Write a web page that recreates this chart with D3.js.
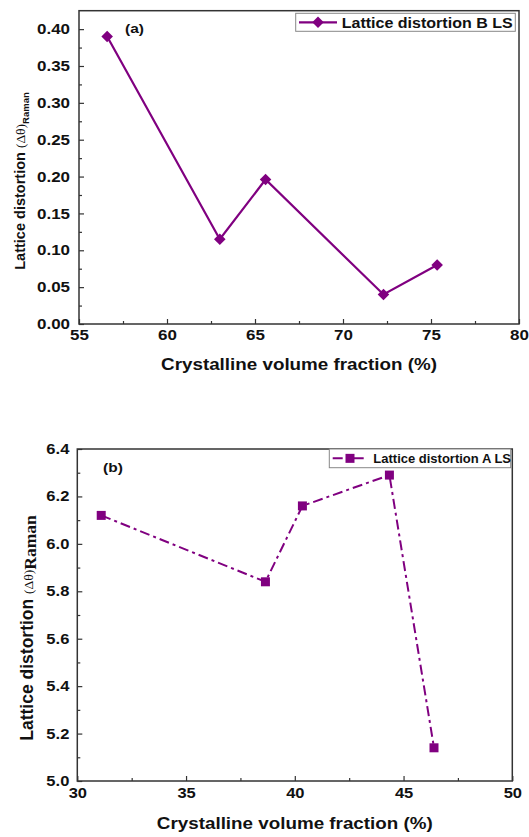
<!DOCTYPE html>
<html>
<head>
<meta charset="utf-8">
<script src="https://cdn.jsdelivr.net/npm/d3@7/dist/d3.min.js"></script>
<style>
  body { margin: 0; background: #fff; }
  svg { display: block; }
  text { font-family: "Liberation Sans", Arial, sans-serif; font-weight: bold; fill: #111; }
</style>
</head>
<body>
<div id="chart"></div>
<script>
// painel (a) - B LS
const fractionB = [56.6, 63.0, 65.6, 72.3, 75.35];
const distortionB = [0.39, 0.115, 0.196, 0.04, 0.08];
const xTicksB = [55, 60, 65, 70, 75, 80];
const yTicksB = [0, 0.05, 0.10, 0.15, 0.20, 0.25, 0.30, 0.35, 0.40];

// painel (b) - A LS
const fractionA = [31.1, 38.65, 40.35, 44.35, 46.4];
const distortionA = [6.12, 5.84, 6.16, 6.29, 5.14];
const xTicksA = [30, 35, 40, 45, 50];
const yTicksA = [5.0, 5.2, 5.4, 5.6, 5.8, 6.0, 6.2, 6.4];

const purple = "#800080";
const width = 529, height = 837;

const svg = d3.select("#chart").append("svg")
  .attr("width", width)
  .attr("height", height);

// desenha um painel completo
function drawPanel(cfg) {
  const x = d3.scaleLinear().domain(cfg.xDomain).range([cfg.left, cfg.right]);
  const y = d3.scaleLinear().domain(cfg.yDomain).range([cfg.bottom, cfg.top]);
  const g = svg.append("g");

  // ticks menores
  const xMinor = cfg.xTicks.slice(0, -1).map((d, i) => (d + cfg.xTicks[i + 1]) / 2);
  const yMinor = cfg.yTicks.slice(0, -1).map((d, i) => (d + cfg.yTicks[i + 1]) / 2);

  g.append("g")
    .attr("transform", `translate(0,${cfg.bottom})`)
    .call(d3.axisBottom(x).tickValues(xMinor).tickSize(-3).tickSizeOuter(0).tickFormat(""))
    .call(a => a.select(".domain").remove());
  g.append("g")
    .attr("transform", `translate(${cfg.left},0)`)
    .call(d3.axisLeft(y).tickValues(yMinor).tickSize(-3).tickSizeOuter(0).tickFormat(""))
    .call(a => a.select(".domain").remove());

  // ticks maiores
  const xAxis = g.append("g")
    .attr("transform", `translate(0,${cfg.bottom})`)
    .call(d3.axisBottom(x).tickValues(cfg.xTicks).tickSize(-5).tickSizeOuter(0).tickPadding(cfg.xPad).tickFormat(d3.format("d")));
  xAxis.select(".domain").remove();
  xAxis.selectAll("text")
    .style("font-size", cfg.tickFont + "px")
    .attr("transform", `scale(${cfg.sx},1)`);

  const yAxis = g.append("g")
    .attr("transform", `translate(${cfg.left},0)`)
    .call(d3.axisLeft(y).tickValues(cfg.yTicks).tickSize(-5).tickSizeOuter(0).tickFormat(d3.format(cfg.yFmt)));
  yAxis.select(".domain").remove();
  yAxis.selectAll("text")
    .style("font-size", cfg.tickFont + "px")
    .attr("x", -cfg.yPad / cfg.sx)
    .attr("transform", `scale(${cfg.sx},1)`);

  g.selectAll(".tick line").attr("stroke", "#333").attr("stroke-width", 1.2);

  // moldura
  g.append("rect")
    .attr("x", cfg.left).attr("y", cfg.top)
    .attr("width", cfg.right - cfg.left).attr("height", cfg.bottom - cfg.top)
    .attr("fill", "none").attr("stroke", "#333").attr("stroke-width", 1.5);

  // linha e marcadores
  const pts = cfg.xs.map((d, i) => [d, cfg.ys[i]]);
  const line = d3.line().x(d => x(d[0])).y(d => y(d[1]));
  g.append("path")
    .datum(pts)
    .attr("d", line)
    .attr("fill", "none")
    .attr("stroke", purple)
    .attr("stroke-width", cfg.lineWidth)
    .attr("stroke-dasharray", cfg.dash);

  g.selectAll(".mk")
    .data(pts)
    .join("path")
    .attr("transform", d => `translate(${x(d[0])},${y(d[1])})`)
    .attr("d", d3.symbol().type(cfg.symbol).size(cfg.symbolSize))
    .attr("fill", purple);

  // legenda
  const lg = g.append("g");
  lg.append("rect")
    .attr("x", cfg.legend.x0).attr("y", cfg.legend.y0)
    .attr("width", cfg.legend.x1 - cfg.legend.x0).attr("height", cfg.legend.y1 - cfg.legend.y0)
    .attr("fill", "#fff").attr("stroke", "#888").attr("stroke-width", 1);
  const ly = (cfg.legend.y0 + cfg.legend.y1) / 2;
  lg.append("line")
    .attr("x1", cfg.legend.lx0).attr("x2", cfg.legend.lx1)
    .attr("y1", ly).attr("y2", ly)
    .attr("stroke", purple).attr("stroke-width", cfg.lineWidth)
    .attr("stroke-dasharray", cfg.dash);
  lg.append("path")
    .attr("transform", `translate(${(cfg.legend.lx0 + cfg.legend.lx1) / 2},${ly})`)
    .attr("d", d3.symbol().type(cfg.symbol).size(cfg.symbolSize))
    .attr("fill", purple);
  lg.append("text")
    .attr("transform", `translate(${cfg.legend.tx},${ly + cfg.legend.font * 0.36}) scale(${cfg.legend.sx},1)`)
    .style("font-size", cfg.legend.font + "px")
    .text(cfg.legend.label);

  // letra do painel
  g.append("text")
    .attr("transform", `translate(${cfg.tag.x},${cfg.tag.y}) scale(1.15,1)`)
    .style("font-size", "13.5px")
    .text(cfg.tag.text);

  // rótulo do eixo x
  g.append("text")
    .attr("transform", `translate(${(cfg.left + cfg.right) / 2},${cfg.xLabelY}) scale(${cfg.labelSx},1)`)
    .attr("text-anchor", "middle")
    .style("font-size", cfg.labelFont + "px")
    .text("Crystalline volume fraction (%)");

  // rótulo do eixo y
  const yl = g.append("text")
    .attr("transform", `translate(${cfg.yLabelX},${cfg.yLabelY}) rotate(-90)`)
    .attr("text-anchor", "middle")
    .style("font-size", cfg.yLabel.font + "px");
  yl.append("tspan").text("Lattice distortion ");
  yl.append("tspan")
    .style("font-family", "'Liberation Serif', 'DejaVu Serif', serif")
    .style("font-weight", "normal")
    .style("font-size", cfg.yLabel.greekFont + "px")
    .text("(\u0394\u03B8)");
  yl.append("tspan")
    .attr("dy", cfg.yLabel.subShift)
    .style("font-family", cfg.yLabel.subFamily)
    .style("font-size", cfg.yLabel.subFont + "px")
    .text("Raman");
}

drawPanel({
  xs: fractionB, ys: distortionB,
  xTicks: xTicksB, yTicks: yTicksB,
  xDomain: [55, 80], yDomain: [0, 0.425],
  left: 79, right: 519, top: 10.7, bottom: 324,
  yFmt: ".2f", tickFont: 14.5, sx: 1.17, xPad: 6, yPad: 9,
  lineWidth: 2.2, dash: null,
  symbol: d3.symbolDiamond2, symbolSize: 85,
  legend: { x0: 295.7, x1: 515.3, y0: 13.3, y1: 31.3, lx0: 299, lx1: 337, tx: 341.7, font: 15, sx: 1.07, label: "Lattice distortion B LS" },
  tag: { x: 125, y: 33, text: "(a)" },
  xLabelY: 370, labelFont: 16.5, labelSx: 1.14,
  yLabelX: 25, yLabelY: 181,
  yLabel: { font: 14.5, greekFont: 13.5, subFont: 9.5, subShift: 4, subFamily: "'Liberation Sans', Arial, sans-serif" }
});

drawPanel({
  xs: fractionA, ys: distortionA,
  xTicks: xTicksA, yTicks: yTicksA,
  xDomain: [30, 50], yDomain: [5.0, 6.4],
  left: 77.3, right: 512.3, top: 449, bottom: 781,
  yFmt: ".1f", tickFont: 14, sx: 1.18, xPad: 7, yPad: 8,
  lineWidth: 2, dash: "10,4,3,4",
  symbol: d3.symbolSquare, symbolSize: 81,
  legend: { x0: 329.3, x1: 510.7, y0: 449, y1: 467.7, lx0: 332.7, lx1: 367.3, tx: 373.3, font: 13, sx: 1.0, label: "Lattice distortion A LS" },
  tag: { x: 103, y: 472, text: "(b)" },
  xLabelY: 829, labelFont: 16.5, labelSx: 1.14,
  yLabelX: 33, yLabelY: 628,
  yLabel: { font: 17.5, greekFont: 13.5, subFont: 17.5, subShift: 3, subFamily: "'Liberation Serif', 'DejaVu Serif', serif" }
});
</script>
</body>
</html>
